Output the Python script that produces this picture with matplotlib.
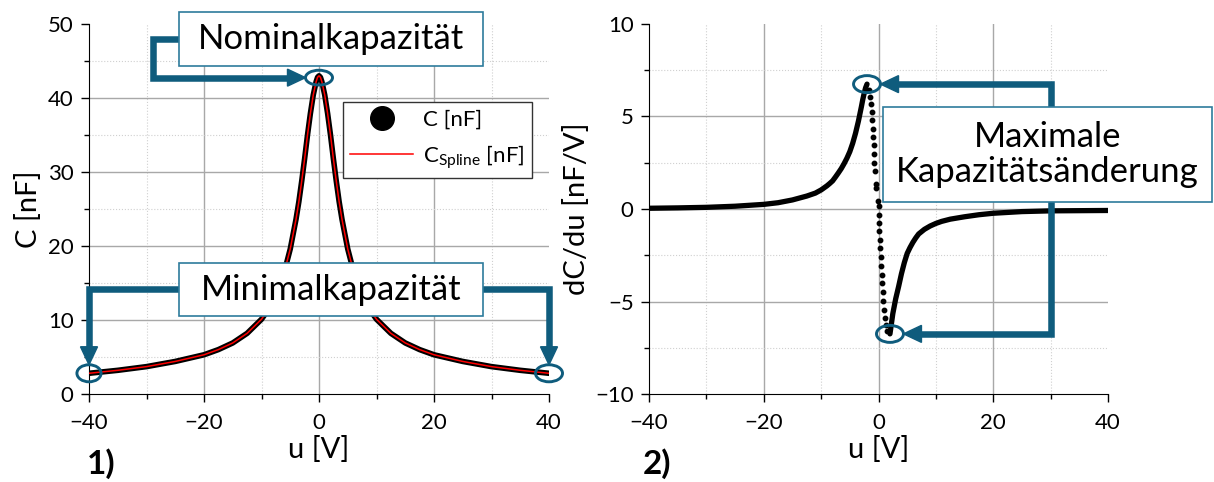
import numpy as np
import matplotlib.pyplot as plt
from matplotlib.patches import Ellipse, Rectangle, Polygon
from matplotlib.lines import Line2D
from matplotlib.ticker import MultipleLocator

plt.rcParams['font.family'] = ['Lato', 'DejaVu Sans']
plt.rcParams['mathtext.fontset'] = 'custom'
plt.rcParams['mathtext.rm'] = 'Lato'

# ---- data ----
# panel 1: capacitance C(u)
u_c = [-40, -35, -30, -25, -20, -17.5, -15, -12.5, -10, -9, -8, -7, -6, -5, -4, -3.5, -3, -2.5,
       -2, -1.5, -1, -0.5, -0.25, 0, 0.25, 0.5, 1, 1.5, 2, 2.5, 3, 3.5, 4, 5, 6, 7, 8, 9, 10,
       12.5, 15, 17.5, 20, 25, 30, 35, 40]
c_nf = [2.8, 3.2, 3.7, 4.4, 5.3, 6.0, 6.9, 8.2, 10.1, 11.2, 12.6, 14.3, 16.6, 19.6, 23.6, 26.0, 28.8, 31.8,
        35.0, 37.9, 40.4, 42.2, 42.8, 43.0, 42.8, 42.2, 40.4, 37.9, 35.0, 31.8, 28.8, 26.0, 23.6, 19.6, 16.6, 14.3, 12.6, 11.2, 10.1,
        8.2, 6.9, 6.0, 5.3, 4.4, 3.7, 3.2, 2.8]

# panel 2: dC/du, dense (solid) branches and the sparse dotted points between them
u_left = [-40, -35, -30, -25, -20, -17.5, -15, -12.5, -11, -10, -9, -8.5, -8, -7.5, -7, -6.5, -6, -5.5, -5,
          -4.5, -4, -3.5, -3, -2.75, -2.5, -2.25, -2]
dc_left = [0.04, 0.06, 0.09, 0.15, 0.25, 0.34, 0.49, 0.70, 0.86, 1.03, 1.25, 1.38, 1.52, 1.73, 1.95, 2.18, 2.45, 2.75, 3.1,
           3.55, 4.1, 4.75, 5.5, 5.9, 6.25, 6.55, 6.75]
u_right = [2.0, 2.25, 2.5, 2.75, 3, 3.5, 4, 4.5, 5, 5.5, 6, 6.5, 7, 8, 9, 10, 11, 12.5, 15, 17.5, 20, 25, 30, 35, 40]
dc_right = [-6.75, -6.2, -5.65, -5.25, -4.85, -4.2, -3.5, -2.9, -2.4, -2.08, -1.8, -1.56, -1.35, -1.1, -0.92, -0.78,
            -0.67, -0.55, -0.42, -0.31, -0.23, -0.14, -0.10, -0.09, -0.08]
u_dots = [-1.69, -1.45, -1.28, -1.16, -1.05, -0.99, -0.93, -0.87, -0.81, -0.70, -0.58, -0.45, -0.38, -0.12, 0.0,
          0.06, 0.12, 0.17, 0.23, 0.29, 0.35, 0.47, 0.58, 0.64, 0.76, 0.81, 0.93, 1.10, 1.25, 1.50]
dc_dots = [6.45, 6.07, 5.70, 5.25, 4.80, 4.33, 3.90, 3.45, 2.95, 2.50, 2.05, 1.35, 1.15, 0.45, 0.15,
           -0.35, -0.78, -1.18, -1.65, -2.12, -2.58, -3.10, -3.55, -4.02, -4.50, -4.98, -5.45, -5.90, -6.28, -6.62]

teal = '#0f5c7d'
box_edge = '#2e7b9c'

fig = plt.figure(figsize=(12.14, 4.82), dpi=100)
ax1 = fig.add_axes([89 / 1214, 88 / 482, 460 / 1214, 370 / 482])
ax2 = fig.add_axes([649 / 1214, 88 / 482, 459 / 1214, 370 / 482])


def style(ax, xlim, ylim, ymaj, ymin):
    ax.set_xlim(xlim)
    ax.set_ylim(ylim)
    ax.xaxis.set_major_locator(MultipleLocator(20))
    ax.xaxis.set_minor_locator(MultipleLocator(10))
    ax.yaxis.set_major_locator(MultipleLocator(ymaj))
    ax.yaxis.set_minor_locator(MultipleLocator(ymin))
    for s in ['top', 'right']:
        ax.spines[s].set_visible(False)
    ax.tick_params(which='major', direction='out', length=6, width=1, labelsize=16)
    ax.tick_params(axis='x', which='major', pad=8)
    ax.tick_params(axis='y', which='major', pad=5)
    ax.tick_params(which='minor', direction='out', length=3.5, width=1)
    ax.grid(True, which='major', color='#a8a8a8', lw=1)
    ax.grid(True, which='minor', color='#d0d0d0', lw=0.8, ls=':')
    ax.set_axisbelow(True)
    # no grid lines on the edges of the plot area
    for tick, loc in zip(ax.xaxis.get_major_ticks(), ax.get_xticks()):
        if loc in xlim:
            tick.gridline.set_visible(False)
    for tick, loc in zip(ax.yaxis.get_major_ticks(), ax.get_yticks()):
        if loc in ylim:
            tick.gridline.set_visible(False)


def elbow_arrow(ax, xs, ys, lw=4.7, head_len=18, head_w=17):
    pts = ax.transData.transform(np.column_stack([xs, ys]))
    tip, prev = pts[-1], pts[-2]
    d = (tip - prev) / np.linalg.norm(tip - prev)
    n = np.array([-d[1], d[0]])
    base = tip - d * head_len
    inv = ax.transData.inverted()
    line = inv.transform(np.vstack([pts[:-1], base + d * 2]))
    ax.plot(line[:, 0], line[:, 1], color=teal, lw=lw, solid_joinstyle='miter',
            solid_capstyle='butt', clip_on=False, zorder=6)
    tri = inv.transform(np.array([tip, base + n * head_w / 2, base - n * head_w / 2]))
    ax.add_patch(Polygon(tri, closed=True, color=teal, clip_on=False, zorder=6))


def label_box(ax, x0, x1, y0, y1, text, size):
    ax.add_patch(Rectangle((x0, y0), x1 - x0, y1 - y0, facecolor='white', edgecolor=box_edge,
                           lw=1.2, clip_on=False, zorder=8))
    ax.text((x0 + x1) / 2, (y0 + y1) / 2, text, ha='center', va='center', fontsize=size,
            multialignment='center', linespacing=1.1, zorder=9, clip_on=False)


def ring(ax, x, y, w, h):
    ax.add_patch(Ellipse((x, y), w, h, fill=False, edgecolor=teal, lw=2.1, clip_on=False, zorder=7))


# ---- panel 1 ----
style(ax1, (-40, 40), (0, 50), 10, 5)
ax1.plot(u_c, c_nf, color='black', lw=4.0, solid_joinstyle='round', zorder=2)
ax1.plot(u_c, c_nf, color='red', lw=1.1, zorder=3)
ax1.set_xlabel('u [V]', fontsize=21, labelpad=2)
ax1.set_ylabel('C [nF]', fontsize=21, labelpad=4)

h_pts = Line2D([], [], ls='none', marker='o', ms=17, color='black')
h_spl = Line2D([], [], color='red', lw=1.1)
leg = ax1.legend([h_pts, h_spl], ['C [nF]', r'C$_{\mathregular{Spline}}$ [nF]'], loc='upper left',
                 bbox_to_anchor=(0.5515, 0.79), borderaxespad=0, fontsize=16, fancybox=False,
                 edgecolor='#333333', framealpha=1, handlelength=2.8, handletextpad=0.45,
                 borderpad=0.35, labelspacing=0.6)
leg.get_frame().set_linewidth(1)
leg.set_zorder(5)

i_pk = int(np.argmax(c_nf))
ring(ax1, u_c[i_pk], c_nf[i_pk] - 0.25, 4.7, 2.0)
ring(ax1, u_c[0], c_nf[0], 4.2, 2.3)
ring(ax1, u_c[-1], c_nf[-1], 4.7, 2.3)

elbow_arrow(ax1, [-20, -28.9, -28.9, u_c[i_pk] - 2.35], [48.0, 48.0, 42.75, 42.75])
elbow_arrow(ax1, [-20, u_c[0], u_c[0]], [14.15, 14.15, c_nf[0] + 1.15])
elbow_arrow(ax1, [20, u_c[-1], u_c[-1]], [14.15, 14.15, c_nf[-1] + 1.15])
label_box(ax1, -24.35, 28.5, 44.3, 51.6, 'Nominalkapazität', 25)
label_box(ax1, -24.35, 28.5, 10.5, 17.7, 'Minimalkapazität', 25)

# ---- panel 2 ----
style(ax2, (-40, 40), (-10, 10), 5, 2.5)
ax2.plot(u_left, dc_left, color='black', lw=3.8, solid_capstyle='round', zorder=2)
ax2.plot(u_right, dc_right, color='black', lw=3.8, solid_capstyle='round', zorder=2)
ax2.plot(u_dots, dc_dots, ls='none', marker='o', ms=3.2, color='black', zorder=2)
ax2.set_xlabel('u [V]', fontsize=21, labelpad=2)
ax2.set_ylabel('dC/du [nF/V]', fontsize=21, labelpad=4)

ring(ax2, u_left[-1], dc_left[-1], 4.7, 0.92)
ring(ax2, u_right[0], dc_right[0], 4.7, 0.92)
elbow_arrow(ax2, [30, 30, u_left[-1] + 2.35], [3, dc_left[-1], dc_left[-1]])
elbow_arrow(ax2, [30, 30, u_right[0] + 2.35], [3, dc_right[0], dc_right[0]])
label_box(ax2, 0.77, 58.08, 0.38, 5.51, 'Maximale\nKapazitätsänderung', 25)

fig.text(101 / 1214, 1 - 464 / 482, '1)', fontsize=24, fontweight='bold', ha='center', va='center')
fig.text(657 / 1214, 1 - 464 / 482, '2)', fontsize=24, fontweight='bold', ha='center', va='center')

fig.savefig('out.png', dpi=100)
